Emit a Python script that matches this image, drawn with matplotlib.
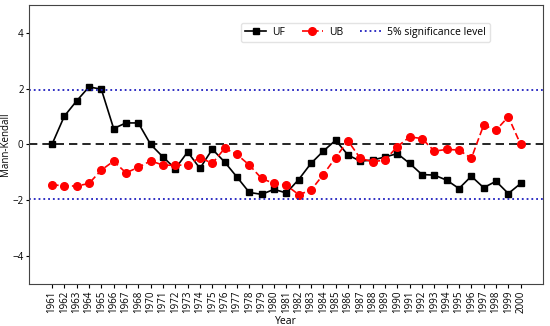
import matplotlib
matplotlib.use("Agg")
import matplotlib.pyplot as plt
import numpy as np

years = ["1961", "1962", "1963", "1964", "1965", "1966", "1967", "1968", "1970",
         "1971", "1972", "1973", "1974", "1975", "1976", "1977", "1978", "1979",
         "1980", "1981", "1982", "1983", "1984", "1985", "1986", "1987", "1988",
         "1989", "1990", "1991", "1992", "1993", "1994", "1995", "1996", "1997",
         "1998", "1999", "2000"]
uf = [0.0, 1.01, 1.56, 2.06, 1.98, 0.57, 0.77, 0.77, 0.0,
      -0.45, -0.87, -0.27, -0.86, -0.17, -0.63, -1.17, -1.72, -1.79,
      -1.61, -1.74, -1.26, -0.68, -0.24, 0.15, -0.38, -0.60, -0.56,
      -0.45, -0.33, -0.68, -1.08, -1.10, -1.28, -1.58, -1.14, -1.55,
      -1.32, -1.76, -1.40]
ub = [-1.44, -1.49, -1.49, -1.40, -0.92, -0.60, -1.02, -0.82, -0.59,
      -0.74, -0.75, -0.73, -0.47, -0.68, -0.14, -0.36, -0.74, -1.22,
      -1.40, -1.46, -1.80, -1.64, -1.08, -0.47, 0.13, -0.50, -0.62,
      -0.56, -0.08, 0.27, 0.21, -0.24, -0.18, -0.20, -0.50, 0.69,
      0.51, 0.99, 0.0]
sig = 1.96

plt.rcParams['font.family'] = ['Open Sans', 'DejaVu Sans']
fig = plt.figure(figsize=(5.5, 3.26), dpi=100)
ax = fig.add_axes([0.053, 0.129, 0.934, 0.856])
x = np.arange(len(years))

ax.axhline(0, color='black', linestyle='--', linewidth=1.2, dashes=(5, 3))
ax.plot(x, uf, color='black', marker='s', markersize=5, linewidth=1.2, label='UF')
ax.plot(x, ub, color='#ff0000', marker='o', markersize=5.5, linewidth=1.2,
        linestyle='--', dashes=(4, 2), label='UB')
ax.axhline(sig, color='#1f1fbf', linestyle=':', linewidth=1.3, label='5% significance level')
ax.axhline(-sig, color='#1f1fbf', linestyle=':', linewidth=1.3)

ax.set_xlim(-1.85, 39.8)
ax.set_ylim(-5, 5)
ax.set_xticks(x)
ax.set_xticklabels(years, rotation=90, fontsize=7)
ax.set_yticks([-4, -2, 0, 2, 4])
ax.tick_params(axis='y', labelsize=7, length=2, pad=2)
ax.tick_params(axis='x', length=3, pad=2)
ax.set_xlabel('Year', fontsize=7.5, labelpad=2)
ax.set_ylabel('Mann-Kendall', fontsize=7, labelpad=1)
for s in ax.spines.values():
    s.set_color('#444444')

ax.legend(loc='upper center', bbox_to_anchor=(0.655, 0.955), ncol=3, fontsize=7.5,
          frameon=True, edgecolor='#dddddd', handlelength=2.0, columnspacing=1.6,
          handletextpad=0.6, borderpad=0.4)

fig.savefig('out.png', dpi=100)
